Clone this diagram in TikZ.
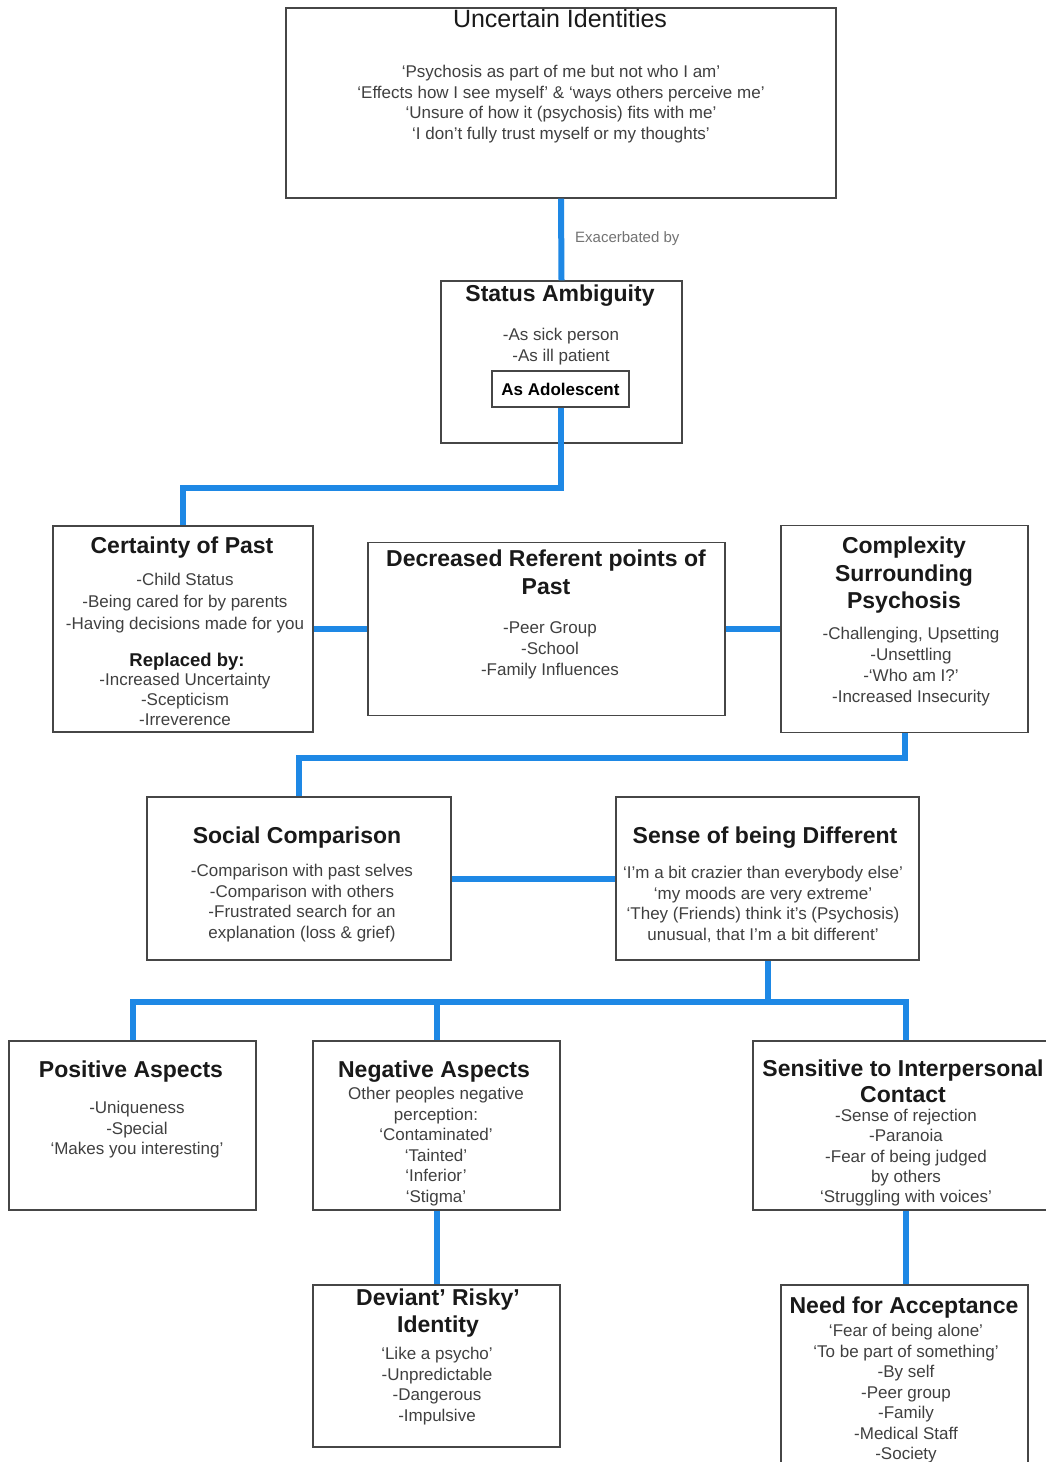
\documentclass[tikz,border=0pt]{standalone}
\usepackage{fontspec}
\setmainfont{Liberation Sans}
\usetikzlibrary{positioning}
\definecolor{linkblue}{RGB}{30,136,229}
\definecolor{frame}{RGB}{70,70,70}
\newcommand\headfont{\fontsize{23}{27.5}\selectfont\bfseries}
\newcommand\bodyfont{\fontsize{17}{20.7}\selectfont}
\begin{document}
\begin{tikzpicture}[x=1pt,y=-1pt,
  box/.style={draw=frame,line width=1.4pt,rectangle,inner sep=0pt,fill=white},
  head/.style={font=\headfont,text=black!90,align=center,inner sep=0pt},
  body/.style={font=\bodyfont,text=black!75,align=center,inner sep=0pt,anchor=north},
  link/.style={draw=linkblue,line width=6pt}]
\useasboundingbox (0,0) rectangle (1046,1462);
\clip (0,0) rectangle (1046,1462);
\fill[white] (0,0) rectangle (1046,1462);

% boxes
\node[box,minimum width=550pt,minimum height=190pt] (ui) at (561,103) {};
\node[box,minimum width=241pt,minimum height=162pt] (sa) at (561.5,362) {};
\node[box,minimum width=137pt,minimum height=36pt,font=\fontsize{17}{20}\selectfont\bfseries] (ado) at (560.5,389) {As Adolescent};
\node[box,minimum width=260pt,minimum height=206pt] (cp) at (183,629) {};
\node[box,minimum width=357pt,minimum height=173pt] (dr) at (546.5,629) {};
\node[box,minimum width=247pt,minimum height=207pt] (cx) at (904.5,629) {};
\node[box,minimum width=304pt,minimum height=163pt] (sc) at (299,878.5) {};
\node[box,minimum width=303pt,minimum height=163pt] (sd) at (767.5,878.5) {};
\node[box,minimum width=247pt,minimum height=169pt] (pa) at (132.5,1125.5) {};
\node[box,minimum width=247pt,minimum height=169pt] (na) at (436.5,1125.5) {};
\node[box,minimum width=306pt,minimum height=169pt] (si) at (906,1125.5) {};
\node[box,minimum width=247pt,minimum height=162pt] (dv) at (436.5,1366) {};
\node[box,minimum width=247pt,minimum height=195pt] (nf) at (904.5,1382.5) {};

% connectors
\draw[link] (ui.south) -- (sa.north);
\draw[link] (ado.south) -- ++(0,80) -| (cp.north);
\draw[link] (cp.east) -- (dr.west);
\draw[link] (dr.east) -- (cx.west);
\draw[link] (cx.south) -- ++(0,25) -| (sc.north);
\draw[link] (sc.east) -- (sd.west);
\draw[link] (sd.south) -- ++(0,41) coordinate (hub);
\draw[link] (pa.north) |- (hub) -| (si.north);
\draw[link] (hub -| na.north) -- (na.north);
\draw[link] (na.south) -- (dv.north);
\draw[link] (si.south) -- (si.south |- nf.north);

\node[font=\fontsize{15}{18}\selectfont,text=black!55,anchor=west,inner sep=0pt] (exa) at (575,239) {Exacerbated by};

% Uncertain Identities
\node[head,anchor=base,font=\fontsize{25}{29}\selectfont] (uiT) at (560,27) {Uncertain Identities};
\node[body] (uiB) at (561,65) {‘Psychosis as part of me but not who I am’\\
‘Effects how I see myself’ \& ‘ways others perceive me’\\
‘Unsure of how it (psychosis) fits with me’\\
‘I don’t fully trust myself or my thoughts’};

% Status Ambiguity
\node[head,anchor=base] (saT) at (560,301) {Status Ambiguity};
\node[body] (saB) at (561,328) {-As sick person\\-As ill patient};

% Certainty of Past
\node[head,anchor=base] (cpT) at (182,553) {Certainty of Past};
\node[body,font=\fontsize{17}{22}\selectfont] (cpB) at (185,573) {-Child Status\\-Being cared for by parents\\-Having decisions made for you};
\node[head,anchor=base,font=\fontsize{18.5}{22}\selectfont\bfseries] (cpR) at (187,666) {Replaced by:};
\node[body,font=\fontsize{17}{20}\selectfont] (cpB2) at (185,673) {-Increased Uncertainty\\-Scepticism\\-Irreverence};

% Decreased Referent points of Past
\node[head,anchor=north] (drT) at (546,550) {Decreased Referent points of\\Past};
\node[body,font=\fontsize{17}{21}\selectfont] (drB) at (550,621) {-Peer Group\\-School\\-Family Influences};

% Complexity Surrounding Psychosis
\node[head,anchor=north] (cxT) at (904,537) {Complexity\\Surrounding\\Psychosis};
\node[body,font=\fontsize{17}{21}\selectfont] (cxB) at (911,627) {-Challenging, Upsetting\\-Unsettling\\-‘Who am I?’\\-Increased Insecurity};

% Social Comparison
\node[head,anchor=base] (scT) at (297,843) {Social Comparison};
\node[body] (scB) at (302,864) {-Comparison with past selves\\-Comparison with others\\-Frustrated search for an\\explanation (loss \& grief)};

% Sense of being Different
\node[head,anchor=base] (sdT) at (765,843) {Sense of being Different};
\node[body] (sdB) at (763,866) {‘I’m a bit crazier than everybody else’\\‘my moods are very extreme’\\‘They (Friends) think it’s (Psychosis)\\unusual, that I’m a bit different’};

% Positive Aspects
\node[head,anchor=base] (paT) at (131,1077) {Positive Aspects};
\node[body] (paB) at (137,1101) {-Uniqueness\\-Special\\‘Makes you interesting’};

% Negative Aspects
\node[head,anchor=base] (naT) at (434,1077) {Negative Aspects};
\node[body,font=\fontsize{17}{20.6}\selectfont] (naB) at (436,1087) {Other peoples negative\\perception:\\‘Contaminated’\\‘Tainted’\\‘Inferior’\\‘Stigma’};

% Sensitive to Interpersonal Contact
\node[head,anchor=north,font=\fontsize{23}{26}\selectfont\bfseries] (siT) at (903,1060) {Sensitive to Interpersonal\\Contact};
\node[body,font=\fontsize{17}{20.3}\selectfont] (siB) at (906,1109) {-Sense of rejection\\-Paranoia\\-Fear of being judged\\by others\\‘Struggling with voices’};

% Deviant Risky Identity
\node[head,anchor=north,font=\fontsize{23}{27}\selectfont\bfseries] (dvT) at (438,1289) {Deviant’ Risky’\\Identity};
\node[body] (dvB) at (437,1347) {‘Like a psycho’\\-Unpredictable\\-Dangerous\\-Impulsive};

% Need for Acceptance
\node[head,anchor=base] (nfT) at (904,1313) {Need for Acceptance};
\node[body,font=\fontsize{17}{20.5}\selectfont] (nfB) at (906,1324) {‘Fear of being alone’\\‘To be part of something’\\-By self\\-Peer group\\-Family\\-Medical Staff\\-Society};
\end{tikzpicture}
\end{document}
